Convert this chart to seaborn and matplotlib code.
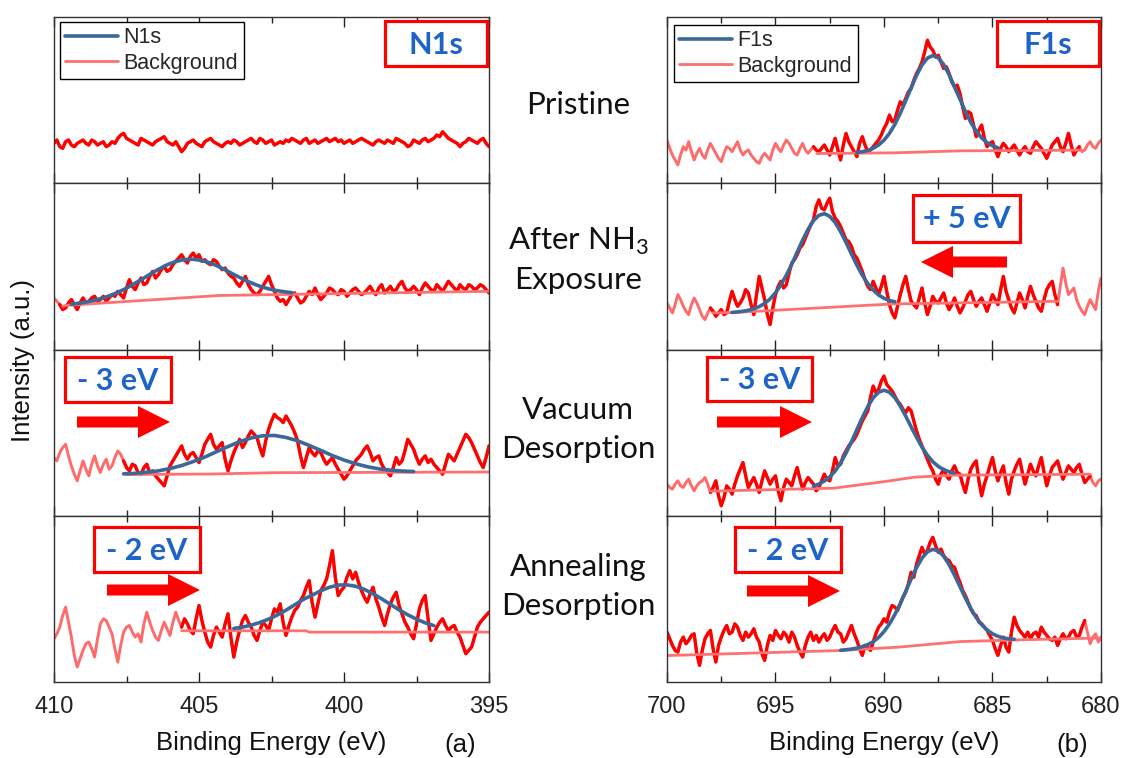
import numpy as np
import pandas as pd
import matplotlib
matplotlib.use("Agg")
import matplotlib.pyplot as plt
import seaborn as sns
from matplotlib.lines import Line2D
from matplotlib.patches import Rectangle, FancyArrow
from matplotlib.ticker import MultipleLocator

sns.set_style("ticks")
plt.rcParams["font.family"] = ["Liberation Sans", "DejaVu Sans"]
plt.rcParams["mathtext.fontset"] = "custom"
plt.rcParams["mathtext.rm"] = "Lato"

# ---------------- N1s region (binding energy, eV, 0.1 eV steps) ----------------
n1s_energy = np.linspace(410.0, 395.0, 151)

n1s_pristine = [24, 26, 22, 21, 25, 26, 23, 22, 24, 25, 26, 24, 23, 26, 25, 23, 24, 25, 22, 23,
                25, 24, 27, 29, 30, 27, 26, 25, 24, 23, 27, 26, 25, 24, 23, 25, 26, 27, 28, 25,
                24, 23, 25, 22, 19, 21, 24, 25, 26, 24, 23, 22, 25, 26, 27, 25, 24, 23, 22, 24,
                25, 24, 26, 25, 23, 24, 25, 26, 27, 25, 24, 27, 26, 24, 25, 26, 23, 24, 25, 24,
                26, 25, 27, 26, 25, 24, 26, 27, 24, 25, 26, 24, 25, 26, 27, 25, 26, 27, 25, 26,
                24, 25, 26, 24, 25, 26, 27, 26, 25, 24, 23, 25, 26, 25, 24, 26, 25, 24, 27, 26,
                25, 24, 22, 23, 26, 25, 24, 26, 27, 25, 26, 27, 29, 28, 31, 29, 27, 26, 25, 24,
                22, 24, 25, 27, 26, 25, 24, 26, 27, 24, 22]

n1s_exposure = [31, 29, 27, 24, 25, 28, 30, 27, 24, 28, 31, 28, 29, 31, 32, 29, 30, 32, 29, 31,
                33, 32, 35, 33, 31, 37, 42, 38, 36, 40, 43, 39, 40, 44, 47, 43, 45, 48, 50, 47,
                48, 51, 53, 55, 57, 54, 52, 56, 58, 55, 57, 53, 54, 52, 51, 54, 53, 50, 48, 49,
                46, 44, 43, 40, 38, 41, 44, 39, 36, 34, 33, 35, 38, 41, 44, 39, 35, 31, 29, 30,
                27, 30, 33, 34, 31, 28, 29, 32, 35, 33, 37, 33, 30, 32, 34, 37, 36, 34, 33, 36,
                35, 32, 34, 36, 37, 35, 33, 34, 36, 38, 35, 33, 37, 39, 34, 36, 38, 35, 36, 39,
                41, 37, 35, 36, 38, 36, 33, 37, 40, 38, 36, 35, 39, 37, 35, 38, 41, 39, 37, 35,
                39, 37, 36, 39, 38, 36, 37, 39, 38, 36, 34]

n1s_vacuum = [35, 33, 38, 41, 43, 36, 30, 25, 21, 27, 33, 28, 24, 31, 36, 30, 26, 31, 34, 28,
              30, 35, 39, 37, 33, 29, 27, 31, 30, 26, 25, 29, 31, 26, 27, 24, 22, 20, 18, 24,
              30, 33, 36, 39, 42, 37, 34, 37, 38, 35, 32, 37, 43, 46, 49, 43, 40, 42, 44, 34,
              27, 33, 38, 42, 46, 41, 44, 48, 51, 49, 47, 41, 36, 45, 52, 57, 61, 59, 58, 56,
              60, 57, 54, 50, 45, 36, 29, 35, 41, 38, 36, 39, 38, 34, 31, 33, 35, 31, 28, 25,
              22, 24, 27, 30, 33, 35, 37, 40, 42, 38, 33, 35, 36, 31, 28, 26, 24, 29, 35, 31,
              33, 39, 46, 43, 40, 35, 31, 34, 36, 32, 34, 31, 29, 27, 25, 31, 37, 35, 33, 37,
              41, 45, 49, 47, 44, 40, 36, 32, 29, 35, 42]

n1s_annealing = [26, 29, 33, 40, 45, 36, 27, 16, 9, 14, 19, 23, 24, 20, 15, 26, 35, 38, 37, 33,
                 29, 20, 12, 22, 30, 33, 34, 30, 27, 29, 24, 35, 42, 36, 31, 27, 25, 31, 36, 32,
                 28, 36, 42, 37, 33, 38, 35, 31, 29, 38, 46, 37, 30, 24, 21, 28, 33, 30, 27, 35,
                 41, 27, 15, 24, 31, 37, 40, 36, 33, 28, 25, 31, 36, 34, 31, 38, 44, 42, 47, 36,
                 28, 34, 39, 43, 45, 49, 52, 57, 61, 48, 39, 47, 55, 58, 62, 70, 79, 63, 52, 55,
                 57, 63, 67, 62, 66, 60, 55, 51, 48, 53, 57, 50, 45, 39, 34, 41, 47, 51, 54, 46,
                 41, 36, 33, 29, 26, 35, 44, 49, 52, 38, 25, 29, 33, 36, 38, 34, 31, 33, 34, 30,
                 27, 22, 17, 19, 21, 27, 33, 36, 38, 40, 42]

# measured range of each spectrum (high, low) in eV
n1s_windows = [(410.0, 395.0), (409.8, 395.0), (407.6, 395.0), (405.6, 395.0)]

# Shirley-type backgrounds
n1s_exposure_bg_e = [409.7, 409.6, 404.3, 395.0]
n1s_exposure_bg_v = [26.0, 26.5, 32.5, 35.0]
n1s_vacuum_bg_e = [407.5, 404.6, 402.4, 395.0]
n1s_vacuum_bg_v = [24.8, 25.1, 25.9, 26.3]
n1s_annealing_bg_e = [405.6, 401.3, 401.2, 395.0]
n1s_annealing_bg_v = [30.8, 30.8, 30.0, 30.0]

# fitted N1s envelopes
n1s_exposure_fit_e = np.linspace(409.4, 401.8, 39)
n1s_exposure_fit_v = [27.2, 27.7, 28.2, 28.9, 29.6, 30.6, 31.6, 32.9, 34.4, 36.0,
                      37.9, 39.9, 41.9, 44.1, 46.2, 48.2, 50.1, 51.7, 52.9, 53.8,
                      54.2, 54.3, 53.8, 53.0, 52.0, 50.5, 48.8, 47.0, 45.1, 43.4,
                      41.6, 40.1, 38.7, 37.5, 36.5, 35.7, 35.1, 34.6, 34.2]
n1s_vacuum_fit_e = np.linspace(407.6, 397.6, 26)
n1s_vacuum_fit_v = [25.2, 25.5, 26.2, 27.0, 28.4, 30.2, 32.6, 35.3, 38.5, 41.6,
                    44.6, 46.8, 48.1, 48.3, 47.1, 45.1, 42.3, 39.3, 36.2, 33.5,
                    31.3, 29.5, 28.2, 27.4, 26.9, 26.6]
n1s_annealing_fit_e = np.linspace(403.8, 396.9, 24)
n1s_annealing_fit_v = [32.2, 33.0, 34.2, 35.8, 37.8, 40.3, 43.2, 46.4, 49.7, 52.2,
                       54.9, 57.0, 58.3, 58.4, 57.6, 55.7, 53.1, 50.0, 46.7, 43.4,
                       40.4, 37.8, 35.6, 33.9]

# ---------------- F1s region (binding energy, eV, 0.125 eV steps) ----------------
f1s_energy = np.linspace(700.0, 680.0, 161)

f1s_pristine = [26, 21, 17, 14, 11, 17, 22, 20, 25, 19, 14, 18, 21, 17, 15, 20, 24, 21, 18, 15,
                13, 18, 22, 21, 19, 22, 25, 20, 17, 19, 20, 17, 15, 13, 12, 16, 18, 16, 14, 20,
                24, 21, 19, 23, 26, 24, 21, 18, 17, 21, 24, 20, 18, 20, 22, 20, 19, 21, 23, 20,
                17, 22, 27, 20, 14, 23, 30, 25, 22, 19, 16, 24, 28, 23, 19, 20, 22, 24, 26, 29,
                33, 36, 41, 37, 38, 44, 49, 47, 51, 55, 57, 62, 66, 69, 73, 79, 86, 82, 80, 76,
                77, 73, 69, 70, 66, 61, 58, 59, 54, 46, 39, 43, 42, 35, 28, 32, 35, 27, 22, 24,
                25, 20, 16, 21, 24, 22, 19, 21, 23, 20, 17, 20, 22, 19, 18, 22, 25, 23, 21, 18,
                15, 19, 23, 25, 27, 22, 19, 24, 30, 23, 17, 20, 22, 19, 20, 23, 25, 22, 21, 24,
                26]

f1s_exposure = [28, 25, 22, 27, 33, 30, 26, 23, 21, 27, 31, 28, 24, 20, 18, 22, 25, 23, 20, 22,
                24, 21, 22, 29, 35, 30, 26, 28, 31, 36, 34, 27, 21, 33, 44, 37, 30, 21, 15, 25,
                33, 38, 41, 37, 39, 46, 52, 54, 57, 61, 63, 67, 71, 75, 78, 86, 90, 85, 84, 88,
                91, 83, 79, 77, 74, 70, 66, 65, 62, 57, 55, 51, 47, 42, 38, 36, 41, 37, 33, 38,
                44, 35, 27, 22, 19, 26, 33, 39, 44, 36, 29, 27, 25, 31, 37, 28, 21, 26, 32, 29,
                28, 31, 34, 28, 24, 27, 31, 26, 22, 25, 29, 33, 35, 30, 26, 29, 31, 27, 23, 28,
                33, 30, 27, 36, 44, 35, 30, 25, 22, 28, 34, 30, 25, 32, 38, 33, 29, 25, 23, 30,
                36, 39, 41, 33, 27, 38, 49, 40, 33, 35, 37, 30, 26, 23, 21, 26, 30, 27, 24, 35,
                43]

f1s_vacuum = [19, 17, 16, 19, 21, 18, 17, 20, 22, 18, 15, 18, 20, 21, 23, 19, 14, 17, 21, 12,
              6, 11, 18, 16, 13, 19, 24, 28, 32, 24, 17, 20, 23, 19, 14, 21, 27, 23, 19, 22,
              24, 15, 9, 17, 22, 20, 18, 24, 29, 22, 16, 20, 23, 21, 19, 15, 17, 21, 25, 22,
              21, 27, 35, 30, 31, 36, 39, 42, 44, 46, 49, 53, 57, 60, 63, 71, 78, 74, 76, 81,
              84, 79, 77, 75, 72, 69, 67, 64, 62, 65, 63, 57, 51, 46, 42, 38, 34, 30, 27, 22,
              19, 25, 28, 24, 22, 27, 30, 26, 25, 19, 14, 22, 28, 31, 33, 21, 12, 19, 24, 30,
              35, 27, 21, 26, 30, 20, 13, 22, 27, 31, 34, 26, 19, 25, 31, 27, 24, 30, 35, 26,
              18, 24, 29, 31, 33, 27, 22, 26, 30, 28, 26, 29, 31, 25, 20, 22, 24, 20, 18, 21,
              22]

f1s_annealing = [30, 26, 22, 19, 18, 24, 27, 23, 25, 28, 29, 17, 10, 19, 26, 29, 31, 20, 12, 22,
                 27, 31, 34, 29, 30, 35, 33, 28, 25, 30, 27, 29, 32, 27, 24, 17, 13, 22, 28, 25,
                 31, 28, 26, 30, 28, 24, 30, 27, 22, 18, 15, 22, 27, 30, 25, 28, 24, 27, 29, 25,
                 27, 31, 34, 30, 29, 24, 26, 30, 34, 29, 25, 20, 16, 22, 21, 19, 24, 29, 33, 35,
                 38, 36, 42, 46, 45, 43, 47, 51, 54, 59, 66, 63, 71, 76, 81, 77, 79, 84, 87, 82,
                 78, 80, 76, 74, 73, 70, 69, 64, 60, 55, 52, 48, 44, 41, 40, 36, 35, 33, 31, 28,
                 25, 20, 16, 22, 27, 21, 18, 30, 39, 34, 31, 29, 27, 30, 26, 29, 30, 27, 33, 30,
                 28, 26, 25, 27, 22, 26, 29, 26, 27, 30, 31, 27, 28, 33, 37, 30, 23, 27, 29, 24,
                 27]

f1s_windows = [(693.25, 681.0), (698.0, 682.0), (698.0, 680.5), (700.0, 680.75)]

f1s_pristine_bg_e = [693.1, 689.5, 686.5, 681.0]
f1s_pristine_bg_v = [17.9, 18.3, 19.5, 19.9]
f1s_exposure_bg_e = [697.9, 697.0, 689.6, 682.0]
f1s_exposure_bg_v = [22.0, 22.2, 27.4, 29.0]
f1s_vacuum_bg_e = [698.0, 692.3, 690.0, 688.6, 686.8, 680.5]
f1s_vacuum_bg_v = [14.8, 16.6, 20.5, 23.2, 24.4, 25.0]
f1s_annealing_bg_e = [700.0, 692.1, 689.3, 686.5, 683.9, 680.0]
f1s_annealing_bg_v = [15.9, 18.9, 21.0, 24.3, 25.3, 26.5]

f1s_pristine_fit_e = np.linspace(691.25, 684.75, 27)
f1s_pristine_fit_v = [18.5, 19.0, 19.7, 21.0, 23.0, 25.9, 30.0, 35.4, 42.1, 49.6,
                      57.4, 64.9, 71.1, 75.3, 76.8, 75.4, 71.4, 65.3, 57.9, 50.6,
                      43.2, 36.6, 31.3, 27.3, 24.4, 22.5, 21.3]
f1s_exposure_fit_e = np.linspace(697.0, 689.5, 31)
f1s_exposure_fit_v = [22.3, 22.6, 23.0, 23.6, 24.5, 25.8, 27.7, 30.4, 34.1, 38.9,
                      44.7, 51.3, 58.6, 65.8, 72.3, 77.5, 80.7, 81.7, 80.1, 76.4,
                      70.9, 64.4, 57.5, 50.7, 44.7, 39.7, 35.8, 32.8, 30.8, 29.5,
                      28.7]
f1s_vacuum_fit_e = np.linspace(693.25, 686.75, 27)
f1s_vacuum_fit_v = [17.8, 19.1, 20.9, 23.4, 26.9, 31.8, 37.7, 44.4, 51.8, 59.0,
                    65.6, 70.9, 74.3, 75.5, 74.3, 71.0, 66.0, 59.9, 53.5, 47.2,
                    41.3, 36.4, 32.5, 29.7, 27.7, 26.5, 25.7]
f1s_annealing_fit_e = np.linspace(692.0, 684.0, 33)
f1s_annealing_fit_v = [19.1, 19.4, 19.8, 20.4, 21.3, 22.5, 24.2, 26.8, 30.3, 34.9,
                       40.6, 47.2, 54.5, 61.9, 68.8, 74.5, 78.3, 79.8, 78.9, 75.7,
                       70.6, 64.3, 57.4, 50.5, 44.2, 38.8, 34.5, 31.3, 29.0, 27.5,
                       26.5, 26.0, 25.7]

stage_labels = [["Pristine"], ["After NH$_\\mathrm{3}$", "Exposure"],
                ["Vacuum", "Desorption"], ["Annealing", "Desorption"]]
shift_labels = ["+ 5 eV", "- 3 eV", "- 3 eV", "- 2 eV", "- 2 eV"]

# ---------------- styling ----------------
RED = "#FF0000"
PALE = "#FF6B6B"
BG = "#FF7070"
BLUE = "#3A6898"
TXT_BLUE = "#1E64C8"

W, H = 1123, 758
fig = plt.figure(figsize=(W / 100, H / 100), dpi=100)

top, bottom = 1 - 17 / H, 1 - 682 / H
gs_left = fig.add_gridspec(4, 1, left=54 / W, right=489 / W, top=top, bottom=bottom, hspace=0)
gs_right = fig.add_gridspec(4, 1, left=667 / W, right=1101 / W, top=top, bottom=bottom, hspace=0)

n1s_sets = [
    (n1s_pristine, None, None, None, None),
    (n1s_exposure, n1s_exposure_bg_e, n1s_exposure_bg_v, n1s_exposure_fit_e, n1s_exposure_fit_v),
    (n1s_vacuum, n1s_vacuum_bg_e, n1s_vacuum_bg_v, n1s_vacuum_fit_e, n1s_vacuum_fit_v),
    (n1s_annealing, n1s_annealing_bg_e, n1s_annealing_bg_v, n1s_annealing_fit_e, n1s_annealing_fit_v),
]
f1s_sets = [
    (f1s_pristine, f1s_pristine_bg_e, f1s_pristine_bg_v, f1s_pristine_fit_e, f1s_pristine_fit_v),
    (f1s_exposure, f1s_exposure_bg_e, f1s_exposure_bg_v, f1s_exposure_fit_e, f1s_exposure_fit_v),
    (f1s_vacuum, f1s_vacuum_bg_e, f1s_vacuum_bg_v, f1s_vacuum_fit_e, f1s_vacuum_fit_v),
    (f1s_annealing, f1s_annealing_bg_e, f1s_annealing_bg_v, f1s_annealing_fit_e, f1s_annealing_fit_v),
]


def draw_panel(ax, energy, counts, window, bg_e, bg_v, fit_e, fit_v):
    df = pd.DataFrame({"energy": energy, "counts": counts})
    sns.lineplot(data=df, x="energy", y="counts", ax=ax, color=PALE, lw=2.1,
                 estimator=None, sort=False, legend=False)
    hi, lo = window
    core = df[(df["energy"] <= hi + 1e-6) & (df["energy"] >= lo - 1e-6)]
    sns.lineplot(data=core, x="energy", y="counts", ax=ax, color=RED, lw=2.4,
                 estimator=None, sort=False, legend=False)
    if bg_e is not None:
        sns.lineplot(x=bg_e, y=bg_v, ax=ax, color=BG, lw=2.0,
                     estimator=None, sort=False, legend=False)
    if fit_e is not None:
        sns.lineplot(x=fit_e, y=fit_v, ax=ax, color=BLUE, lw=2.6,
                     estimator=None, sort=False, legend=False)


def style_axis(ax, xlim, major, show_labels):
    ax.set_xlim(*xlim)
    ax.set_ylim(0, 100)
    ax.set_yticks([])
    ax.set_ylabel("")
    ax.set_xlabel("")
    ax.xaxis.set_major_locator(MultipleLocator(major))
    ax.xaxis.set_minor_locator(MultipleLocator(major / 2))
    ax.tick_params(axis="x", which="both", direction="in", top=True, bottom=True,
                   labelbottom=show_labels, labelsize=17, pad=10, width=1.0, colors="#222222")
    ax.tick_params(axis="x", which="major", length=7)
    ax.tick_params(axis="x", which="minor", length=4)
    for s in ax.spines.values():
        s.set_linewidth(1.0)
        s.set_color("#333333")


def add_legend(ax, name, x0, y0):
    handles = [Line2D([], [], color=BLUE, lw=2.6), Line2D([], [], color=BG, lw=2.0)]
    leg = ax.legend(handles, [name, "Background"], loc="upper left",
                    bbox_to_anchor=(x0, y0), borderaxespad=0, frameon=True,
                    fancybox=False, edgecolor="black", framealpha=1, fontsize=15.5,
                    handlelength=2.45, handletextpad=0.25, borderpad=0.25, labelspacing=0.2)
    leg.get_frame().set_linewidth(1.0)


for i in range(4):
    axl = fig.add_subplot(gs_left[i])
    c, be, bv, fe, fv = n1s_sets[i]
    draw_panel(axl, n1s_energy, c, n1s_windows[i], be, bv, fe, fv)
    style_axis(axl, (410, 395), 5, i == 3)

    axr = fig.add_subplot(gs_right[i])
    c, be, bv, fe, fv = f1s_sets[i]
    draw_panel(axr, f1s_energy, c, f1s_windows[i], be, bv, fe, fv)
    style_axis(axr, (700, 680), 5, i == 3)

    if i == 0:
        add_legend(axl, "N1s", (60 - 54) / 435, (183.25 - 22) / 166.25)
        add_legend(axr, "F1s", (674 - 667) / 434, (183.25 - 25) / 166.25)

# axis titles
label_font = dict(fontsize=18.5, color="#111111")
fig.text(271.5 / W, 1 - 743 / H, "Binding Energy (eV)", ha="center", va="center", **label_font)
fig.text(884 / W, 1 - 743 / H, "Binding Energy (eV)", ha="center", va="center", **label_font)
fig.text(460 / W, 1 - 745 / H, "(a)", ha="center", va="center", **label_font)
fig.text(1072 / W, 1 - 745 / H, "(b)", ha="center", va="center", **label_font)
fig.text(23 / W, 1 - 361 / H, "Intensity (a.u.)", ha="center", va="center",
         rotation=90, **label_font)

# stage captions between the two columns
baselines = [[114], [250, 289], [419, 458], [576, 615]]
for lines, ys in zip(stage_labels, baselines):
    for s, y in zip(lines, ys):
        fig.text(578 / W, 1 - y / H, s, ha="center", va="baseline",
                 fontsize=22.5, family=["Lato", "DejaVu Sans"], color="#111111")

# overlay in pixel units for boxed tags and shift arrows
ov = fig.add_axes([0, 0, 1, 1])
ov.set_xlim(0, W)
ov.set_ylim(H, 0)
ov.axis("off")
ov.patch.set_alpha(0)


def tag(x0, y0, x1, y1, s):
    ov.add_patch(Rectangle((x0, y0), x1 - x0, y1 - y0, facecolor="white",
                           edgecolor=RED, lw=2.3))
    ov.text((x0 + x1) / 2, (y0 + y1) / 2 + 1, s, ha="center", va="center",
            fontsize=22, fontweight="bold", color=TXT_BLUE, family=["Lato", "DejaVu Sans"])


def arrow(x_tail, x_tip, y):
    ov.add_patch(FancyArrow(x_tail, y, x_tip - x_tail, 0, width=11, head_width=32,
                            head_length=32, length_includes_head=True,
                            color=RED, lw=0))


tag(385, 21, 487, 66, "N1s")
tag(997, 21, 1099, 66, "F1s")
tag(913, 195, 1020, 242, shift_labels[0])
tag(65, 357, 171, 402, shift_labels[1])
tag(707, 357, 812, 401, shift_labels[2])
tag(94, 527, 200, 572, shift_labels[3])
tag(735, 527, 841, 572, shift_labels[4])

arrow(1007, 921, 262)
arrow(77, 170, 422)
arrow(717, 812, 422)
arrow(107, 200, 590)
arrow(747, 840, 591)

fig.savefig("out.png", dpi=100)
